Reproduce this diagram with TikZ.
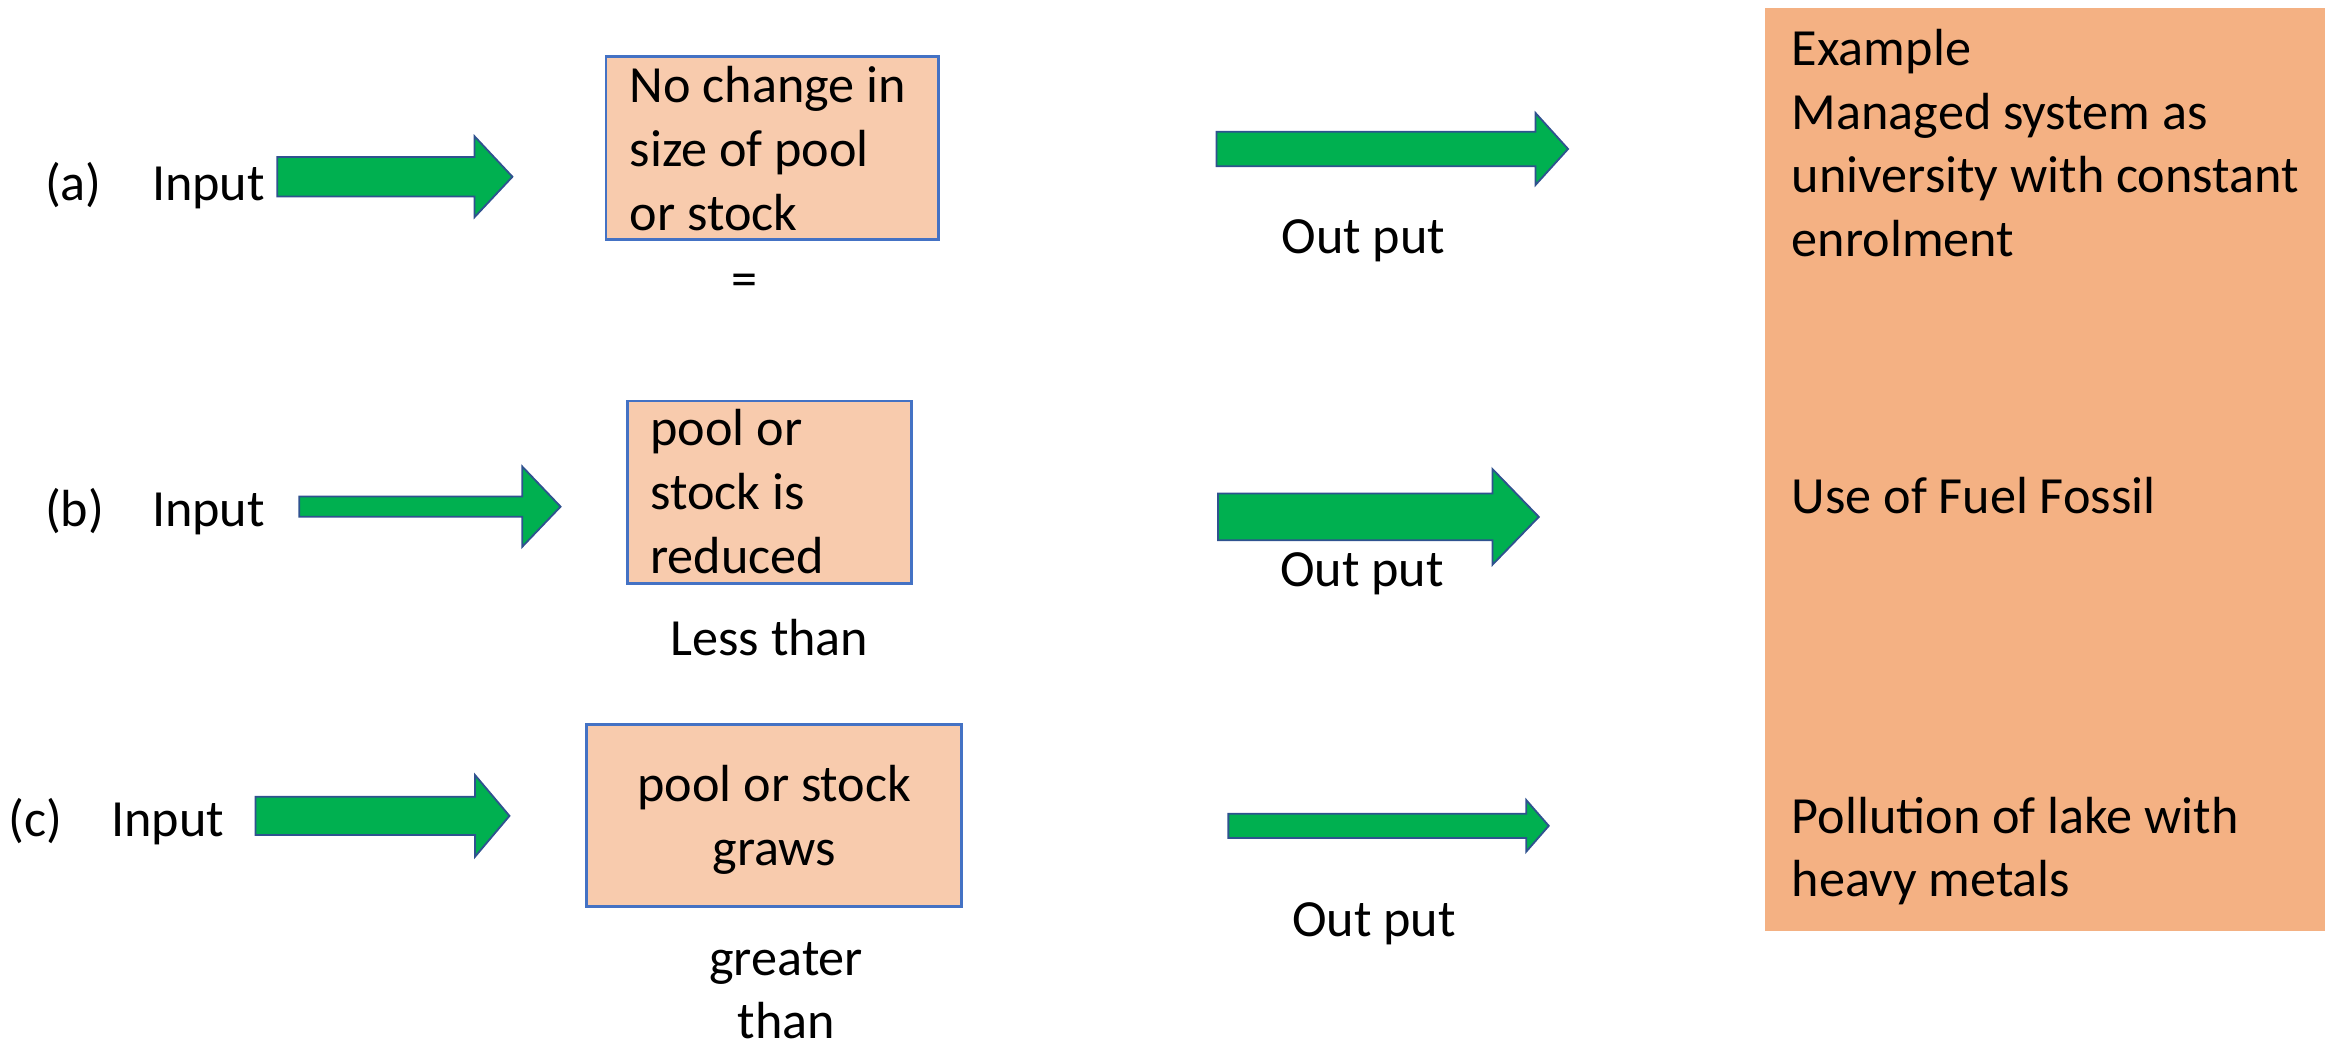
\documentclass[tikz,border=0pt]{standalone}
\usepackage{fontspec}
\setmainfont{Carlito}
\usepackage{tikz}
\usetikzlibrary{positioning}
\definecolor{PoolFill}{HTML}{F8CBAD}
\definecolor{PoolLine}{HTML}{4472C4}
\definecolor{ExampleFill}{HTML}{F4B183}
\definecolor{FlowGreen}{HTML}{00B050}
\definecolor{FlowLine}{HTML}{2F528F}
% block arrow: tail x, head x, tip x, centre y, half shaft, half head
\newcommand{\flowarrow}[6]{\draw[flow] (#1,#4-#5) -- (#2,#4-#5) -- (#2,#4-#6) -- (#3,#4) -- (#2,#4+#6) -- (#2,#4+#5) -- (#1,#4+#5) -- cycle;}

\begin{document}
\begin{tikzpicture}[x=0.02cm,y=-0.02cm,font=\fontsize{20}{24.4}\selectfont]
\tikzstyle{pool}=[draw=PoolLine,line width=1.1pt,fill=PoolFill,inner sep=0pt]
\tikzstyle{lbl}=[inner sep=0pt]
\tikzstyle{flow}=[draw=FlowLine,line width=0.7pt,fill=FlowGreen]
\useasboundingbox (0,0) rectangle (1568,705);
\node[fill=ExampleFill,inner sep=0pt,minimum width=7.54cm,minimum height=12.44cm] (examples) at (1376.5,316) {};
\node[lbl,align=left,anchor=base west] (exa) at (1206,172.8) {Example\\Managed system as\\university with constant\\enrolment};
\node[lbl,anchor=base west] (exb) at (1206,345.6) {Use of Fuel Fossil};
\node[lbl,align=left,anchor=base west] (exc) at (1206,603.7) {Pollution of lake with\\heavy metals};
\node[lbl,anchor=base west] (taga) at (30,134.7) {(a)};
\node[lbl,anchor=base west] (ina) at (102,134.7) {Input};
\node[pool,minimum width=4.48cm,minimum height=2.46cm] (poola) at (520,99.5) {};
\node[lbl,align=left,anchor=base west] (poolatext) at (423.6,154.9) {No change in\\size of pool\\or stock};
\node[lbl] (eqa) at (501,192) {=};
\node[lbl,anchor=base] (outa) at (918,170.5) {Out put};
\node[lbl,anchor=base west] (tagb) at (30,354.6) {(b)};
\node[lbl,anchor=base west] (inb) at (102,354.6) {Input};
\node[pool,minimum width=3.82cm,minimum height=2.46cm] (poolb) at (518.2,331.5) {};
\node[lbl,align=left,anchor=base west] (poolbtext) at (437.5,386) {pool or\\stock is\\reduced};
\node[lbl,anchor=base] (lessb) at (518,441) {Less than};
\node[lbl,anchor=base] (outb) at (917,395) {Out put};
\node[lbl,anchor=base west] (tagc) at (5.5,562.9) {(c)};
\node[lbl,anchor=base west] (inc) at (74.6,562.9) {Input};
\node[pool,minimum width=5.05cm,minimum height=2.45cm] (poolc) at (521.3,549) {};
\node[lbl,align=center,anchor=base] (poolctext) at (521.3,582.4) {pool or stock\\graws};
\node[lbl,align=center,anchor=base] (greatc) at (529.3,699.5) {greater\\than};
\node[lbl,anchor=base] (outc) at (925,630.6) {Out put};
\flowarrow{186.6}{319.5}{345}{119}{13.3}{27.2}
\flowarrow{819}{1033.8}{1055.7}{100.3}{11.6}{24.2}
\flowarrow{201.5}{351.6}{377.4}{341.1}{6.8}{27}
\flowarrow{820}{1004.8}{1036}{348}{15.7}{32.2}
\flowarrow{172}{319.8}{343}{549.3}{12.9}{27.5}
\flowarrow{827}{1027.5}{1042.7}{556}{8.2}{17.4}
\end{tikzpicture}
\end{document}
